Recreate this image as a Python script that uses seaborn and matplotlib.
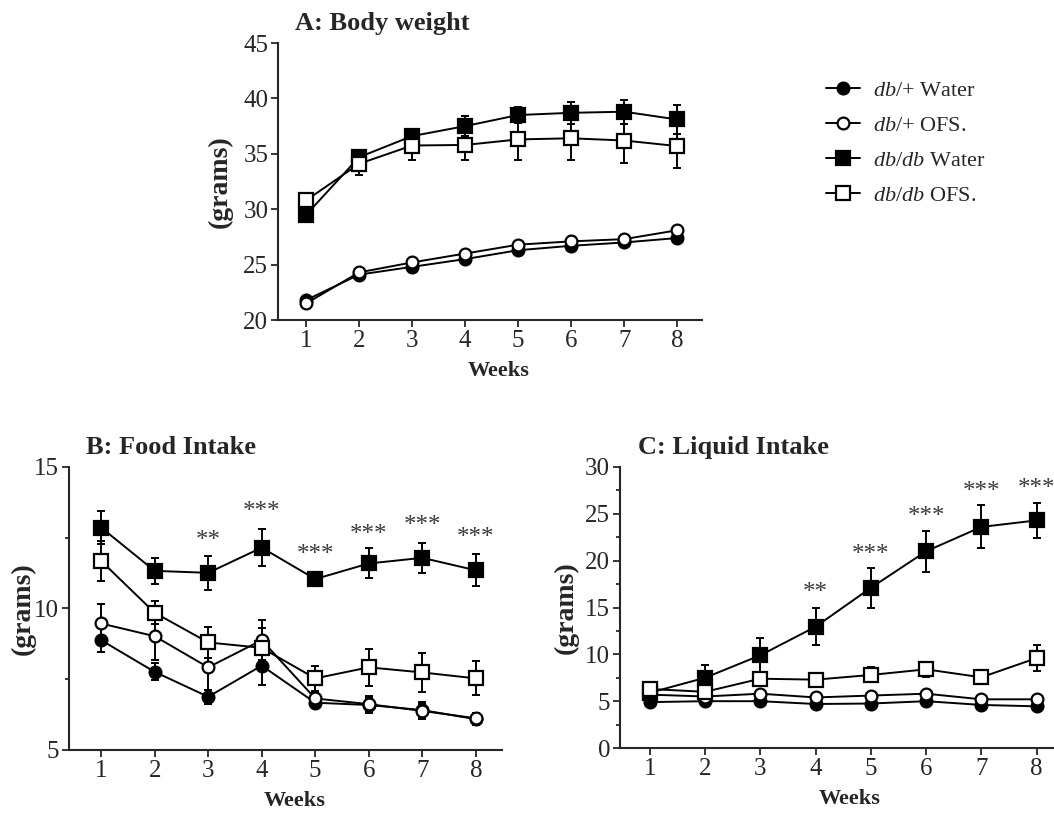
import numpy as np
import pandas as pd
import matplotlib
matplotlib.use("Agg")
import matplotlib.pyplot as plt
from matplotlib.ticker import MultipleLocator
import seaborn as sns

# ---- data (mean +/- error) ----
weeks = [1, 2, 3, 4, 5, 6, 7, 8]
groups = ["db/+ Water", "db/+ OFS.", "db/db Water", "db/db OFS."]
legend_labels = [r"$\mathit{db}$/+ Water", r"$\mathit{db}$/+ OFS.",
                 r"$\mathit{db/db}$ Water", r"$\mathit{db/db}$ OFS."]

# A: body weight
bw_het_water = [21.8, 24.1, 24.8, 25.5, 26.3, 26.7, 27.0, 27.4]
bw_het_ofs = [21.5, 24.3, 25.2, 26.0, 26.8, 27.1, 27.3, 28.1]
bw_dbdb_water = [29.5, 34.7, 36.6, 37.5, 38.5, 38.7, 38.8, 38.1]
bw_dbdb_ofs = [30.8, 34.1, 35.75, 35.8, 36.3, 36.4, 36.2, 35.7]
bw_het_water_err = [0.2, 0.2, 0.2, 0.2, 0.2, 0.2, 0.2, 0.2]
bw_het_ofs_err = [0.2, 0.2, 0.2, 0.2, 0.2, 0.2, 0.2, 0.2]
bw_dbdb_water_err = [0.6, 0.5, 0.3, 0.9, 0.7, 1.0, 1.1, 1.3]
bw_dbdb_ofs_err = [0.5, 1.0, 1.3, 1.4, 1.9, 2.0, 2.0, 2.0]

# B: food intake
fi_het_water = [8.88, 7.76, 6.88, 7.98, 6.67, 6.59, 6.41, 6.09]
fi_het_ofs = [9.47, 9.02, 7.92, 8.88, 6.82, 6.62, 6.38, 6.12]
fi_dbdb_water = [12.86, 11.33, 11.26, 12.15, 11.04, 11.59, 11.79, 11.35]
fi_dbdb_ofs = [11.68, 9.85, 8.8, 8.61, 7.53, 7.92, 7.74, 7.53]
fi_het_water_err = [0.43, 0.3, 0.25, 0.68, 0.15, 0.25, 0.3, 0.2]
fi_het_ofs_err = [0.68, 0.85, 0.8, 0.7, 0.2, 0.3, 0.25, 0.2]
fi_dbdb_water_err = [0.58, 0.45, 0.6, 0.65, 0.2, 0.53, 0.53, 0.57]
fi_dbdb_ofs_err = [0.7, 0.4, 0.55, 0.7, 0.45, 0.65, 0.7, 0.6]
fi_stars = ["", "", "**", "***", "***", "***", "***", "***"]
fi_star_y = [0, 0, 12.4, 13.4, 11.9, 12.6, 12.9, 12.5]

# C: liquid intake
li_het_water = [4.9, 5.0, 5.0, 4.7, 4.75, 5.0, 4.6, 4.45]
li_het_ofs = [5.7, 5.5, 5.8, 5.4, 5.6, 5.8, 5.2, 5.2]
li_dbdb_water = [5.9, 7.5, 9.9, 12.95, 17.1, 21.0, 23.6, 24.3]
li_dbdb_ofs = [6.3, 6.0, 7.4, 7.3, 7.8, 8.4, 7.55, 9.6]
li_het_water_err = [0.2, 0.2, 0.2, 0.2, 0.2, 0.2, 0.2, 0.2]
li_het_ofs_err = [0.2, 0.2, 0.2, 0.2, 0.2, 0.2, 0.2, 0.2]
li_dbdb_water_err = [0.3, 1.35, 1.8, 1.95, 2.1, 2.2, 2.3, 1.9]
li_dbdb_ofs_err = [0.3, 0.3, 0.4, 0.3, 0.8, 0.8, 0.6, 1.4]
li_stars = ["", "", "", "**", "***", "***", "***", "***"]
li_star_y = [0, 0, 0, 16.5, 20.6, 24.7, 27.3, 27.7]

sns.set_style("ticks")
plt.rcParams["font.family"] = ["Liberation Serif", "DejaVu Serif"]
plt.rcParams["mathtext.fontset"] = "custom"
plt.rcParams["mathtext.rm"] = "Liberation Serif"
plt.rcParams["mathtext.it"] = "Liberation Serif:italic"
plt.rcParams["axes.linewidth"] = 1.5

styles = {
    "db/+ Water": dict(marker="o", mfc="black", ms=8.5),
    "db/+ OFS.": dict(marker="o", mfc="white", ms=8.5),
    "db/db Water": dict(marker="s", mfc="black", ms=9.5),
    "db/db OFS.": dict(marker="s", mfc="white", ms=9.5),
}


def draw_panel(ax, means, errs, title, ylim, yticks, xlim, minor=None, stars=None, star_y=None):
    rows = []
    for g, m, e in zip(groups, means, errs):
        for w, v, s in zip(weeks, m, e):
            rows.append({"week": w, "value": v, "err": s, "group": g})
    df = pd.DataFrame(rows)
    for g in groups:
        sub = df[df["group"] == g]
        ax.errorbar(sub["week"], sub["value"], yerr=sub["err"], fmt="none",
                    ecolor="black", elinewidth=1.4, capsize=3.2, capthick=1.4, zorder=2)
    for i, g in enumerate(groups):
        sub = df[df["group"] == g]
        st = styles[g]
        sns.lineplot(data=sub, x="week", y="value", ax=ax, color="black", lw=1.4,
                     marker=st["marker"], markersize=st["ms"], markerfacecolor=st["mfc"],
                     markeredgecolor="black", markeredgewidth=1.6, zorder=3 + i,
                     label=legend_labels[i], legend=False)
    if stars:
        for w, s, y in zip(weeks, stars, star_y):
            if s:
                ax.text(w, y, s, ha="center", va="center", fontsize=18, color="#3a3a3a")
    ax.set_xlim(*xlim)
    ax.set_ylim(*ylim)
    ax.set_xticks(weeks)
    ax.set_yticks(yticks)
    if minor:
        ax.yaxis.set_minor_locator(MultipleLocator(minor))
        ax.tick_params(axis="y", which="minor", length=3, width=1.3)
    ax.tick_params(axis="both", which="major", labelsize=18, length=5, width=1.3, pad=2)
    ax.set_xlabel("Weeks", fontsize=16, fontweight="bold", labelpad=7)
    ax.set_ylabel("(grams)", fontsize=20, fontweight="bold")
    ax.xaxis.label.set_x(0.52)
    ax.text(0.04, 1.03, title, transform=ax.transAxes, fontsize=19, fontweight="bold",
            ha="left", va="bottom")
    sns.despine(ax=ax)


fig = plt.figure(figsize=(10.54, 8.16), dpi=100)
ax_a = fig.add_axes([0.2638, 0.6078, 0.4023, 0.3395])
ax_b = fig.add_axes([0.0655, 0.0809, 0.4108, 0.3468])
ax_c = fig.add_axes([0.5882, 0.0833, 0.4194, 0.3444])

draw_panel(ax_a, [bw_het_water, bw_het_ofs, bw_dbdb_water, bw_dbdb_ofs],
           [bw_het_water_err, bw_het_ofs_err, bw_dbdb_water_err, bw_dbdb_ofs_err],
           "A: Body weight", (20, 45), [20, 25, 30, 35, 40, 45], (0.47, 8.47))
draw_panel(ax_b, [fi_het_water, fi_het_ofs, fi_dbdb_water, fi_dbdb_ofs],
           [fi_het_water_err, fi_het_ofs_err, fi_dbdb_water_err, fi_dbdb_ofs_err],
           "B: Food Intake", (5, 15), [5, 10, 15], (0.4, 8.49), minor=2.5,
           stars=fi_stars, star_y=fi_star_y)
draw_panel(ax_c, [li_het_water, li_het_ofs, li_dbdb_water, li_dbdb_ofs],
           [li_het_water_err, li_het_ofs_err, li_dbdb_water_err, li_dbdb_ofs_err],
           "C: Liquid Intake", (0, 30), [0, 5, 10, 15, 20, 25, 30], (0.46, 8.46), minor=2.5,
           stars=li_stars, star_y=li_star_y)

ax_a.yaxis.set_label_coords(-0.108, 0.5)
ax_b.yaxis.set_label_coords(-0.076, 0.5)
ax_c.yaxis.set_label_coords(-0.093, 0.5)
for ax in (ax_a, ax_b, ax_c):
    ax.xaxis.label.set_x(0.52)

handles, labels = ax_a.get_legend_handles_labels()
fig.legend(handles, labels, loc="upper left", bbox_to_anchor=(0.765, 0.926),
           frameon=False, fontsize=16, handlelength=1.5, labelspacing=0.65,
           handletextpad=0.6)

fig.savefig("out.png", dpi=100)
